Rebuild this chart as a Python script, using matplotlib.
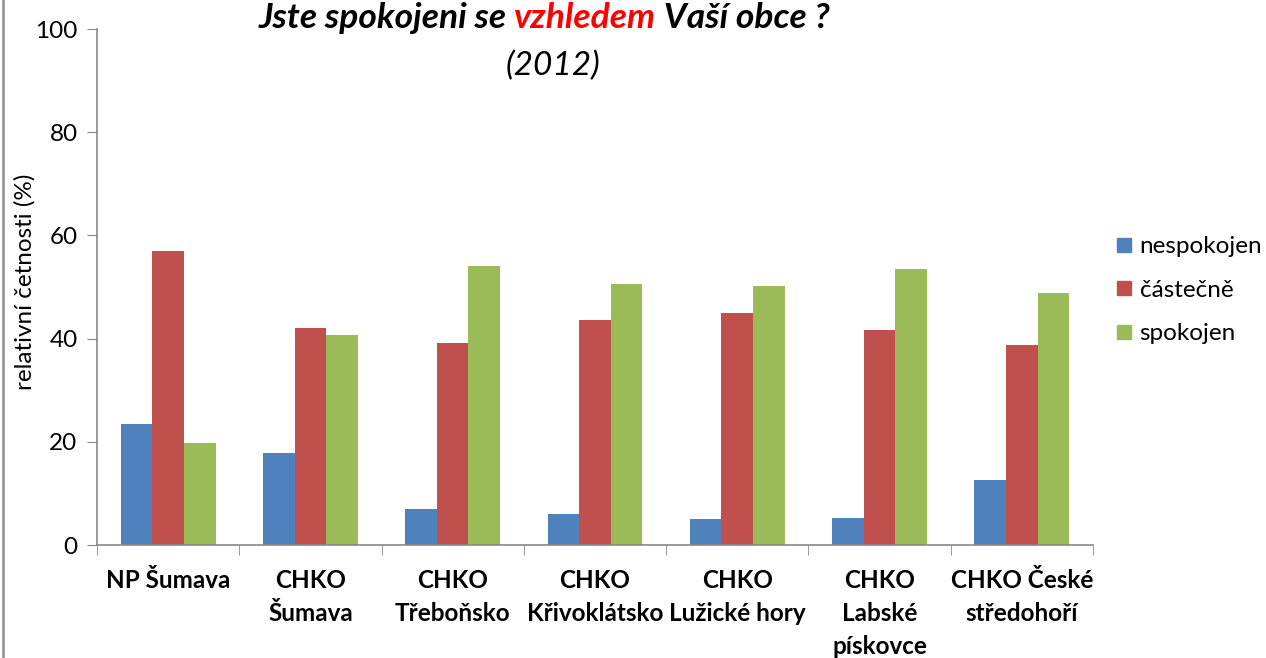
import numpy as np
import matplotlib.pyplot as plt
from matplotlib.lines import Line2D

categories = ['NP Šumava', 'CHKO\nŠumava', 'CHKO\nTřeboňsko', 'CHKO\nKřivoklátsko',
              'CHKO\nLužické hory', 'CHKO\nLabské\npískovce', 'CHKO České\nstředohoří']
series_names = ['nespokojen', 'částečně', 'spokojen']
nespokojen = [23.4, 17.8, 7.0, 6.0, 5.0, 5.2, 12.6]
castecne = [57.0, 42.0, 39.1, 43.6, 45.0, 41.7, 38.8]
spokojen = [19.8, 40.7, 54.1, 50.6, 50.2, 53.5, 48.8]
colors = ['#4F81BD', '#C0504D', '#9BBB59']

plt.rcParams['font.family'] = ['Lato', 'DejaVu Sans']

fig = plt.figure(figsize=(12.66, 6.58), dpi=100)
ax = fig.add_axes([0.0766, 0.1717, 0.7867, 0.7842])

x = np.arange(len(categories))
w = 1 / 4.5
for i, (vals, name) in enumerate(zip([nespokojen, castecne, spokojen], series_names)):
    ax.bar(x + (i - 1) * w, vals, width=w, color=colors[i], label=name)

ax.set_xlim(-0.5, len(categories) - 0.5)
ax.set_ylim(0, 100)
ax.set_yticks(range(0, 101, 20))
ax.set_xticks(x)
ax.set_xticklabels(categories, fontweight='bold', fontsize=17.5, linespacing=1.52, va='top')
ax.set_xticks(np.arange(-0.5, len(categories)), minor=True)
ax.tick_params(axis='x', which='major', length=0, pad=17.5)
ax.tick_params(axis='x', which='minor', length=7, color='#888888', direction='out')
ax.tick_params(axis='y', length=7, color='#888888', labelsize=17.5, pad=7)

for s in ['top', 'right']:
    ax.spines[s].set_visible(False)
for s in ['left', 'bottom']:
    ax.spines[s].set_color('#888888')
    ax.spines[s].set_linewidth(1.2)

ax.set_ylabel('relativní četnosti (%)', fontsize=17.5)
ax.yaxis.set_label_coords(-0.062, 0.51)

# title in pieces so the middle word is red
tkw = dict(fontsize=25.5, fontweight='bold', fontstyle='italic')
t1 = fig.text(0.204, 0.957, 'Jste spokojeni se ', va='baseline', **tkw)
t2 = ax.annotate('vzhledem', xy=(1, 0), xycoords=t1, va='bottom', ha='left',
                 color='#FF0000', annotation_clip=False, **tkw)
t3 = ax.annotate(' Vaší obce ?', xy=(1, 0), xycoords=t2, va='bottom', ha='left',
                 annotation_clip=False, **tkw)
fig.text(0.437, 0.886, '(2012)', fontsize=24, fontstyle='italic', ha='center', va='baseline')

handles = [Line2D([], [], marker='s', linestyle='none', markersize=10,
                  markerfacecolor=c, markeredgecolor=c) for c in colors]
fig.legend(handles, series_names, loc='center left', bbox_to_anchor=(0.881, 0.559),
           frameon=False, fontsize=17.5, labelspacing=0.92, handletextpad=0.3,
           handlelength=0.7, borderpad=0, borderaxespad=0)

fig.add_artist(Line2D([0.002, 0.002], [0, 1], color='#999999', linewidth=2,
                      transform=fig.transFigure))

fig.savefig('out.png', dpi=100)
